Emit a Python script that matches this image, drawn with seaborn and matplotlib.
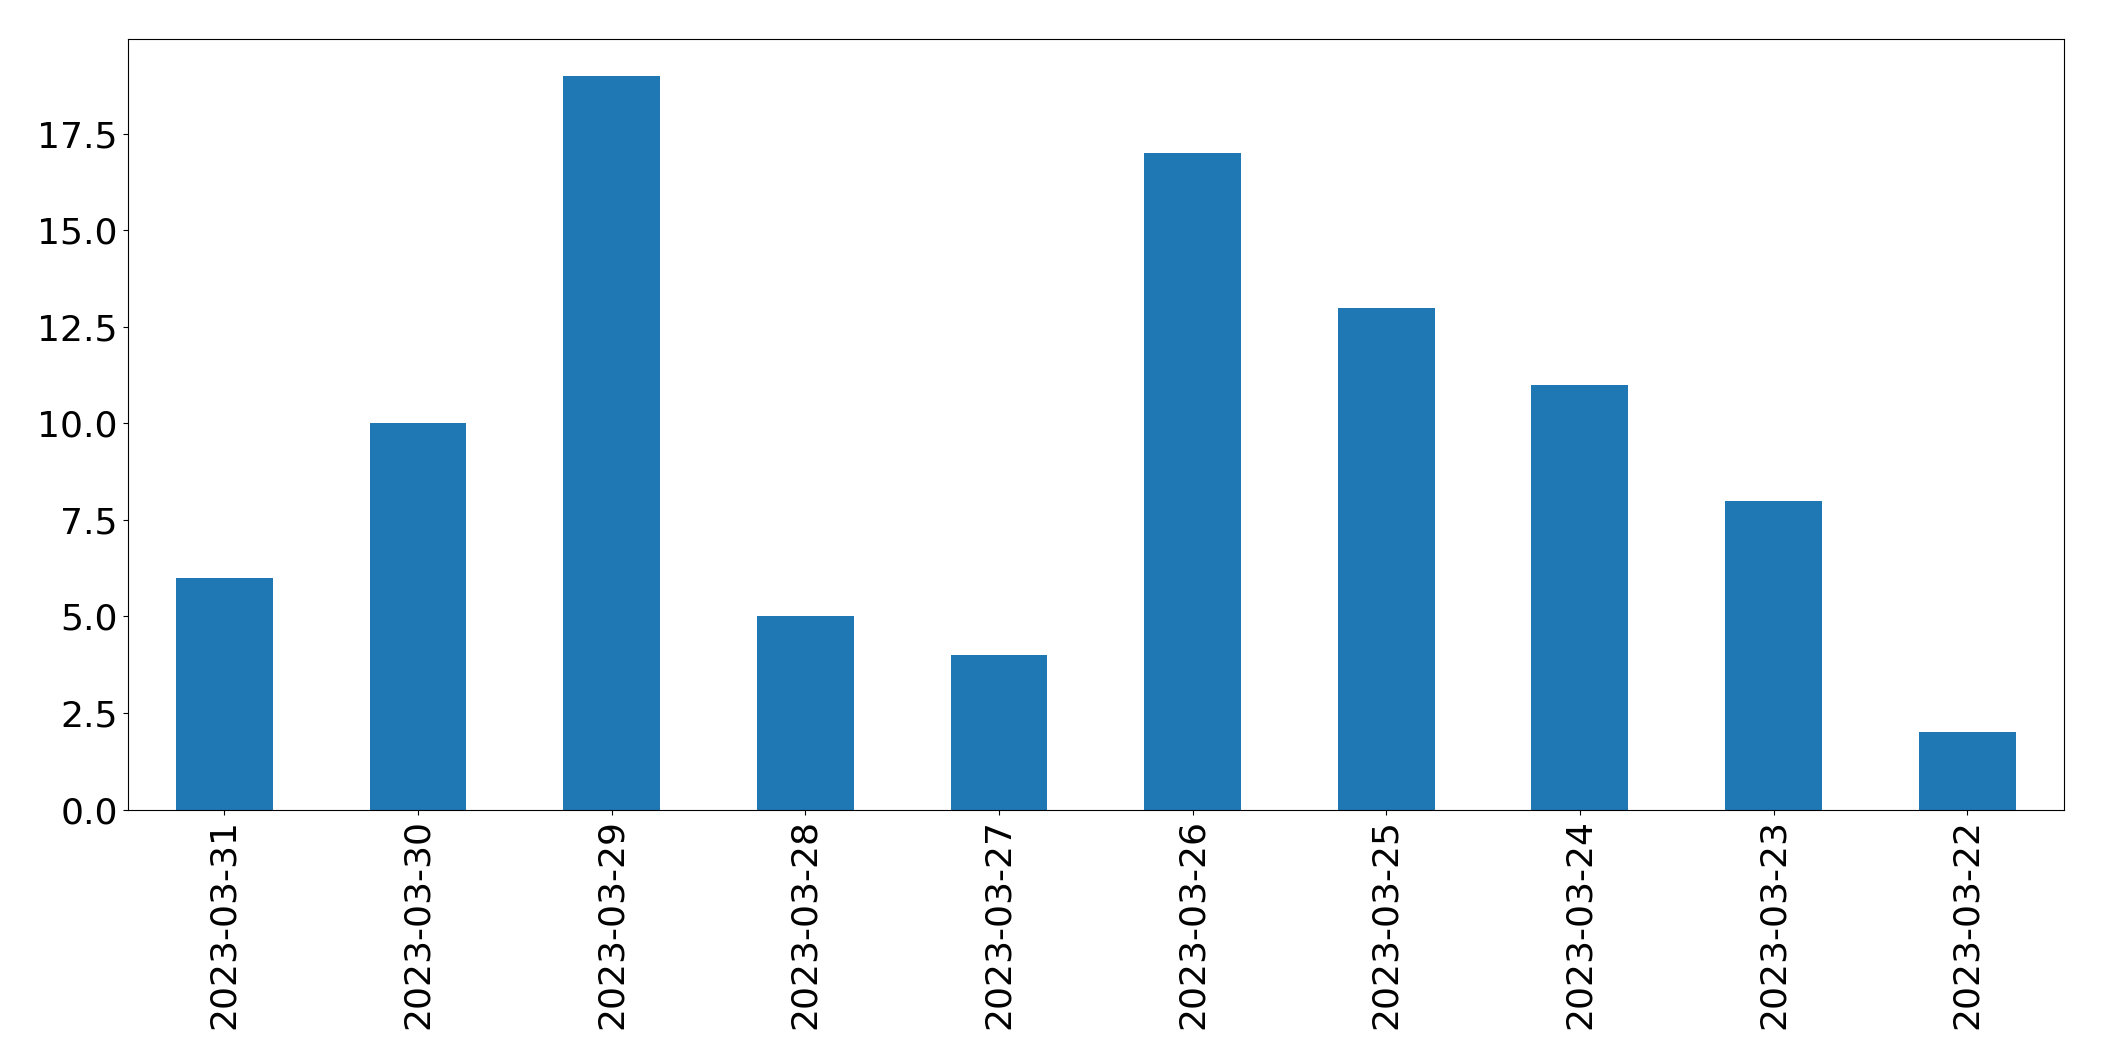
import matplotlib
matplotlib.use("Agg")
import matplotlib.pyplot as plt
import seaborn as sns
import pandas as pd

dates = ["2023-03-31","2023-03-30","2023-03-29","2023-03-28","2023-03-27",
         "2023-03-26","2023-03-25","2023-03-24","2023-03-23","2023-03-22"]
counts = [6, 10, 19, 5, 4, 17, 13, 11, 8, 2]

df = pd.DataFrame({"date": dates, "count": counts})
fig = plt.figure(figsize=(21.04, 10.61), dpi=100)
ax = fig.add_axes([0.0606, 0.237, 0.9204, 0.726])
sns.barplot(data=df, x="date", y="count", order=dates, color="#1f77b4",
            saturation=1, width=0.5, ax=ax)
ax.set_xlabel("")
ax.set_ylabel("")
ax.set_ylim(0, 19.95)
ax.set_xlim(-0.5, len(dates) - 0.5)
ax.tick_params(axis="both", labelsize=26)
plt.setp(ax.get_xticklabels(), rotation=90)
fig.savefig("out.png", dpi=100)
